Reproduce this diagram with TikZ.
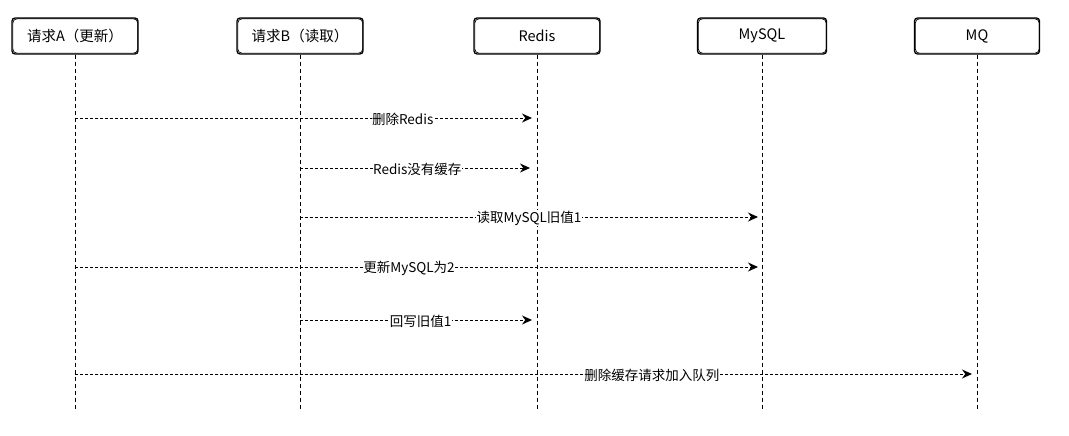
\documentclass[tikz,border=0pt]{standalone}
\usepackage{fontspec}
\setmainfont{Noto Sans CJK SC}
\usetikzlibrary{arrows.meta}
\begin{document}
\begin{tikzpicture}[x=1pt,y=-1pt,
 actor/.style={draw, rounded corners=3pt, line width=1.3pt, minimum width=126pt, minimum height=36pt, inner sep=0pt, font=\fontsize{14.5}{16}\selectfont},
 sketch/.style={draw, rounded corners=4pt, line width=0.7pt},
 life/.style={dash pattern=on 4pt off 3pt, line width=0.9pt},
 msg/.style={dash pattern=on 3pt off 2pt, line width=1pt, -{Stealth[length=10pt,width=9pt]}},
 lbl/.style={fill=white, inner sep=0.5pt, font=\fontsize{13.5}{15}\selectfont}]
\useasboundingbox (0,0) rectangle (1069,436);
% actors
\node[actor] (a) at (75,36) {请求A（更新）};
\node[actor] (b) at (300,36) {请求B（读取）};
\node[actor] (r) at (537,36) {Redis};
\node[actor, minimum width=129pt] (m) at (762,36) {MySQL};
\node[actor, minimum width=125pt] (q) at (977,36) {MQ};
\foreach \n in {a,b,r,m,q}{
  \draw[sketch] ([shift={(1.5,1.5)}]\n.north west) rectangle ([shift={(-1,-1.5)}]\n.south east);
}
% lifeline ends
\coordinate (ae) at (75,410);
\coordinate (be) at (300,410);
\coordinate (re) at (537,410);
\coordinate (me) at (762,410);
\coordinate (qe) at (977,410);
\draw[life] (a.south) -- (ae);
\draw[life] (b.south) -- (be);
\draw[life] (r.south) -- (re);
\draw[life] (m.south) -- (me);
\draw[life] (q.south) -- (qe);
% message points
\coordinate (a1) at (75,118);  \coordinate (r1) at (532,118);
\coordinate (b2) at (300,168); \coordinate (r2) at (530,168);
\coordinate (b3) at (300,217); \coordinate (m3) at (758,217);
\coordinate (a4) at (75,267);  \coordinate (m4) at (758,267);
\coordinate (b5) at (300,320); \coordinate (r5) at (532,320);
\coordinate (a6) at (75,374);  \coordinate (q6) at (972,374);
\draw[msg] (a1) -- node[lbl, pos=0.717, yshift=-1pt] {删除Redis} (r1);
\draw[msg] (b2) -- node[lbl, pos=0.51, yshift=-1pt] {Redis没有缓存} (r2);
\draw[msg] (b3) -- node[lbl, pos=0.5, yshift=-1pt] {读取MySQL旧值1} (m3);
\draw[msg] (a4) -- node[lbl, pos=0.489, yshift=-1pt] {更新MySQL为2} (m4);
\draw[msg] (b5) -- node[lbl, pos=0.52, yshift=-1pt] {回写旧值1} (r5);
\draw[msg] (a6) -- node[lbl, pos=0.643, yshift=-1pt] {删除缓存请求加入队列} (q6);
\end{tikzpicture}
\end{document}
